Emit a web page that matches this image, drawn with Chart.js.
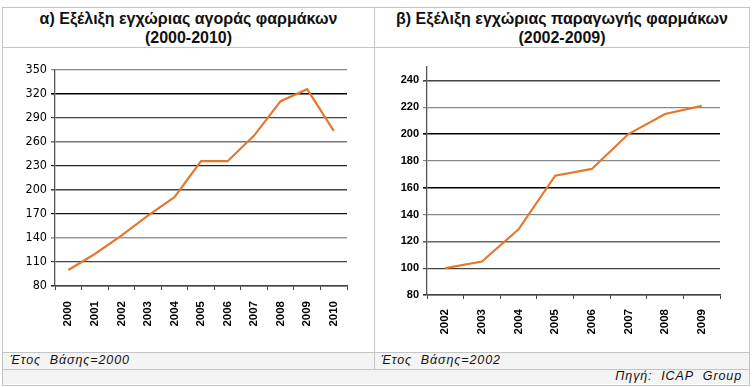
<!DOCTYPE html>
<html lang="el">
<head>
<meta charset="UTF-8">
<title>Εξέλιξη εγχώριας αγοράς και παραγωγής φαρμάκων</title>
<script src="https://cdn.jsdelivr.net/npm/chart.js"></script>
<style>
  body { margin: 0; background: #fff; font-family: "Liberation Sans", Arial, sans-serif; }
  .frame { position: absolute; left: 2px; top: 7px; width: 746px; height: 377px; border: 1px solid #c4c4c4; }
  .line { position: absolute; background: #c4c4c4; }
  .title { position: absolute; top: 9px; height: 38px; text-align: center; font-weight: bold; font-size: 16px; line-height: 19px; color: #111; }
  .row { position: absolute; left: 3px; width: 746px; background: #f4f4f4; }
  .note { position: absolute; font-style: italic; font-size: 12.5px; letter-spacing: 0.9px; color: #111;
          font-family: "Liberation Sans", Arial, sans-serif; }
  .box { position: absolute; top: 48px; height: 304px; }
</style>
</head>
<body>
<div class="frame"></div>
<div class="line" style="left:3px;top:47px;width:746px;height:1px"></div>
<div class="row" style="top:353px;height:16px"></div>
<div class="row" style="top:370px;height:14px"></div>
<div class="line" style="left:3px;top:352px;width:746px;height:1px"></div>
<div class="line" style="left:3px;top:369px;width:746px;height:1px"></div>
<div class="line" style="left:374px;top:8px;width:1px;height:361px"></div>
<div class="title" style="left:3px;width:371px">α) Εξέλιξη εγχώριας αγοράς φαρμάκων<br>(2000-2010)</div>
<div class="title" style="left:375px;width:374px">β) Εξέλιξη εγχώριας παραγωγής φαρμάκων<br>(2002-2009)</div>
<div class="note" style="left:10px;top:353px">Έτος&nbsp; Βάσης=2000</div>
<div class="note" style="left:381px;top:353px">Έτος&nbsp; Βάσης=2002</div>
<div class="note" style="right:14px;top:369px">Πηγή:&nbsp; ICAP&nbsp; Group</div>
<div class="box" style="left:3px;width:371px"><canvas id="marketChart"></canvas></div>
<div class="box" style="left:375px;width:374px"><canvas id="productionChart"></canvas></div>
<script>
  // α) εγχώρια αγορά, έτος βάσης 2000 = 100
  const marketYears = ['2000', '2001', '2002', '2003', '2004', '2005', '2006', '2007', '2008', '2009', '2010'];
  const marketIndex = [100, 120, 143, 168, 191, 236, 236, 268, 311, 326, 274];

  // β) εγχώρια παραγωγή, έτος βάσης 2002 = 100
  const productionYears = ['2002', '2003', '2004', '2005', '2006', '2007', '2008', '2009'];
  const productionIndex = [100, 105, 129, 169, 174, 200, 215, 221];

  const orange = '#E4782C';

  function makeChart(id, labels, values, y, opts) {
    new Chart(document.getElementById(id), {
      type: 'line',
      data: {
        labels: labels,
        datasets: [{
          data: values,
          borderColor: orange,
          borderWidth: 2.2,
          pointRadius: 0,
          tension: 0,
          fill: false
        }]
      },
      options: {
        responsive: true,
        maintainAspectRatio: false,
        animation: false,
        layout: { padding: opts.padding },
        plugins: { legend: { display: false }, tooltip: { enabled: false } },
        scales: {
          x: {
            offset: true,
            grid: { offset: true, drawOnChartArea: false, drawTicks: true, tickLength: 4, color: '#444' },
            border: { color: '#444', width: 1.3 },
            ticks: {
              minRotation: 90, maxRotation: 90, autoSkip: false, padding: opts.xPad,
              color: '#000',
              font: { family: '"Liberation Sans", Arial, sans-serif', size: 11.5, weight: 'bold' }
            },
            afterFit: (s) => { s.height = opts.xHeight; }
          },
          y: {
            min: y.min, max: y.max,
            grid: {
              color: opts.grid,
              lineWidth: (c) => (c.index % 2 === 0 ? 1.6 : 1.2),
              drawTicks: true, tickLength: 4
            },
            border: { color: '#555', width: 1.3 },
            ticks: {
              stepSize: y.step, padding: 4, color: '#000',
              font: opts.yFont
            },
            afterBuildTicks: (s) => { s.ticks = s.ticks.filter(t => (t.value - y.min) % y.step === 0); },
            afterFit: (s) => { s.width = 52; }
          }
        }
      }
    });
  }

  makeChart('marketChart', marketYears, marketIndex,
    { min: 80, max: 350, step: 30 },
    {
      padding: { left: 0, right: 27, top: 22, bottom: 0 },
      xHeight: 66, xPad: 11,
      grid: ['#333', '#444', '#999', '#111', '#444', '#222', '#777', '#444', '#000', '#888'],
      yFont: { family: '"DejaVu Sans Condensed", "Liberation Sans", sans-serif', size: 12.5 }
    });

  makeChart('productionChart', productionYears, productionIndex,
    { min: 80, max: 250, step: 20 },
    {
      padding: { left: 0, right: 29, top: 19, bottom: 0 },
      xHeight: 57, xPad: 10,
      grid: ['#333', '#444', '#666', '#888', '#000', '#888', '#000', '#888', '#444'],
      yFont: { family: '"Liberation Sans", Arial, sans-serif', size: 11, weight: 'bold' }
    });
</script>
</body>
</html>
